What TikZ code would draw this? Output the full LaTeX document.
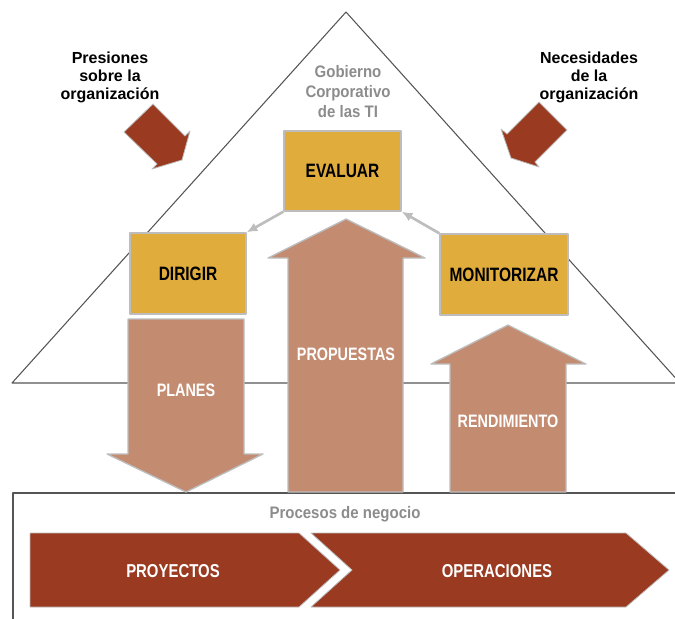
\documentclass[tikz,border=0pt]{standalone}
\usepackage{fontspec}
\setmainfont{Liberation Sans}
\newfontfamily\condfont[FakeStretch=0.80]{Liberation Sans}
\newfontfamily\greyfont[FakeStretch=0.90]{Liberation Sans}
\usepackage{xcolor}
\usetikzlibrary{arrows.meta,positioning,calc}

\definecolor{govgold}{HTML}{E0AC3B}
\definecolor{govsalmon}{HTML}{C38B70}
\definecolor{govred}{HTML}{993A21}
\definecolor{govgrey}{HTML}{8C8C8C}
\definecolor{govline}{HTML}{555555}
\definecolor{govedge}{HTML}{BDBDBD}

\tikzset{
  govbox/.style={draw=govedge, line width=1pt, fill=govgold, inner sep=0pt,
    minimum height=60pt, font=\condfont\bfseries\fontsize{14.5}{16}\selectfont},
  flowarrow/.style={fill=govsalmon, draw=govedge, line width=1pt},
  flowlabel/.style={text=white, font=\condfont\bfseries\fontsize{13.5}{15}\selectfont},
  redshape/.style={fill=govred, draw=govedge, line width=0.6pt},
  sidetext/.style={align=center, font=\bfseries\fontsize{12}{13.5}\selectfont},
  greytext/.style={text=govgrey, align=center, font=\greyfont\bfseries\fontsize{12.5}{15}\selectfont},
  govlink/.style={draw=govedge, line width=2pt, -{Latex[length=8pt,width=7pt]}}
}

\begin{document}
\begin{tikzpicture}[x=0.75pt, y=-0.75pt, line join=round]

\useasboundingbox (0,0) rectangle (675,618);
\clip (0,0) rectangle (675,618);

% ------------------ triangle of the governing body ------------------
\draw[govline, line width=0.8pt] (12,383) -- (346,12) -- (680,383) -- cycle;
\node[greytext] (gob) at (348,92) {Gobierno\\Corporativo\\de las TI};

% outside pressures and needs
\node[sidetext] (pres) at (110,77) {Presiones\\sobre la\\organizaci\'on};
\node[sidetext] (nec) at (589,77) {Necesidades\\de la\\organizaci\'on};
\path[redshape] (153,104) -- (185,136) -- (190,131) -- (182,160)
  -- (152,169) -- (157,164) -- (124,132) -- cycle;
\path[redshape] (539,102) -- (507,134) -- (501,129) -- (511,158)
  -- (539,167) -- (535,162) -- (567,130) -- cycle;

% ------------------ business processes ------------------
\draw[govline, line width=0.8pt] (13,640) -- (13,493) -- (690,493);
\node[greytext] (proc) at (345,514) {Procesos de negocio};
\path[redshape] (30,533) -- (299,533) -- (340,570) -- (299,607) -- (30,607) -- cycle;
\path[redshape] (311,533) -- (626,533) -- (669,570) -- (626,607) -- (311,607) -- (352,570) -- cycle;
\node[flowlabel, font=\condfont\bfseries\fontsize{14}{16}\selectfont] (proy) at (173,571) {PROYECTOS};
\node[flowlabel, font=\condfont\bfseries\fontsize{14}{16}\selectfont] (oper) at (497,571) {OPERACIONES};

% ------------------ flows ------------------
% plans down, proposals and performance up
\path[flowarrow] (128,319) -- (244,319) -- (244,454) -- (263,454) -- (186,492)
  -- (107,454) -- (128,454) -- cycle;
\path[flowarrow] (288,492) -- (288,258) -- (268,258) -- (346,219) -- (425,258)
  -- (403,258) -- (403,492) -- cycle;
\path[flowarrow] (450,492) -- (450,364) -- (431,364) -- (508,325) -- (586,364)
  -- (566,364) -- (566,492) -- cycle;
\node[flowlabel] (planes) at (186,390) {PLANES};
\node[flowlabel] (prop) at (346,354) {PROPUESTAS};
\node[flowlabel] (rend) at (508,421) {RENDIMIENTO};

% ------------------ evaluate, direct, monitor ------------------
\node[govbox, minimum width=87.75pt] (eval) at (342.5,171) {EVALUAR};
\node[govbox, minimum width=87pt, minimum height=60.75pt] (dir) at (188,273.5) {DIRIGIR};
\node[govbox, minimum width=96pt, minimum height=60.75pt] (mon) at (504,274.5) {MONITORIZAR};

\draw[govlink] (eval.south west) -- (dir.north east);
\draw[govlink] (mon.north west) -- (eval.south east);

\end{tikzpicture}
\end{document}
